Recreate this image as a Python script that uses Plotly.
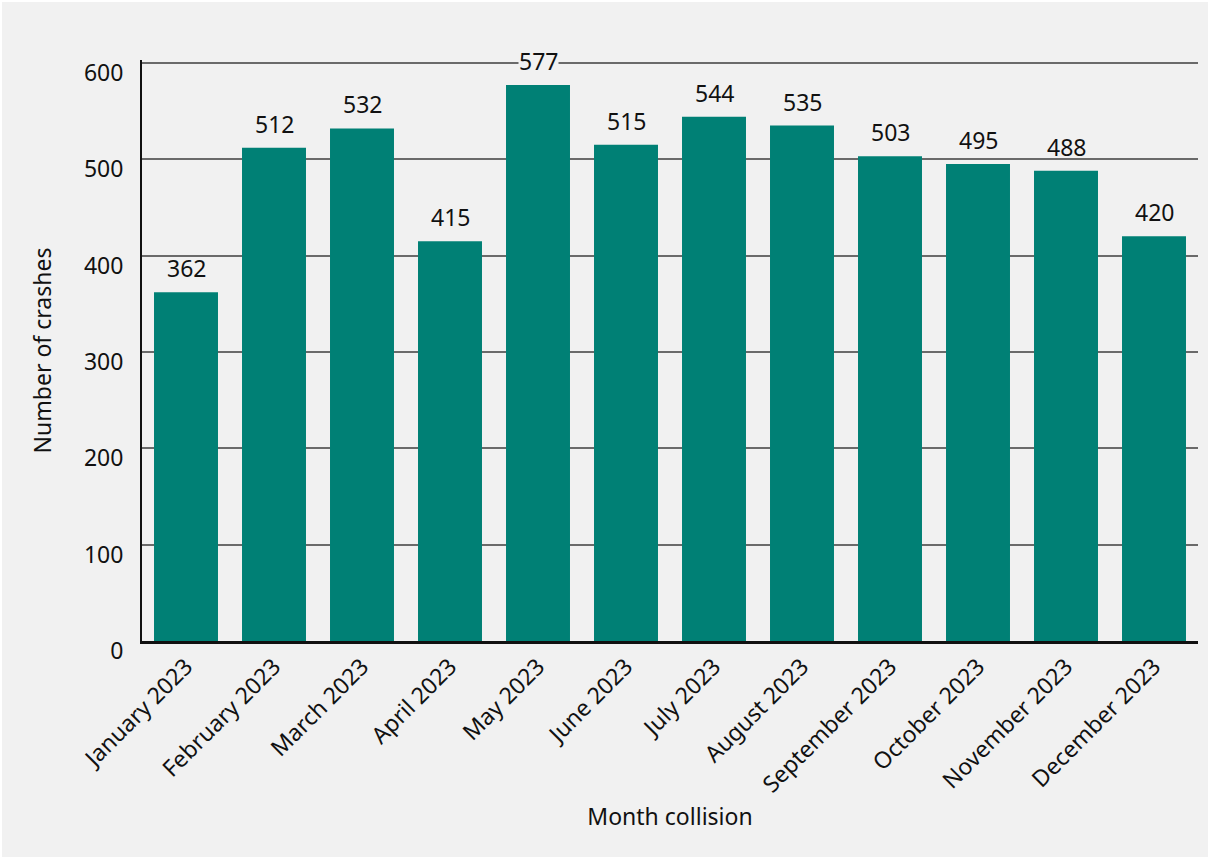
import plotly.graph_objects as go

months = ["January 2023", "February 2023", "March 2023", "April 2023", "May 2023",
          "June 2023", "July 2023", "August 2023", "September 2023", "October 2023",
          "November 2023", "December 2023"]
crashes = [362, 512, 532, 415, 577, 515, 544, 535, 503, 495, 488, 420]
y_ticks = [0, 100, 200, 300, 400, 500, 600]

BG = "#f1f1f1"
FONT = "Noto Sans"
FS = 23
TXT = "#111111"

W, H = 1210, 859
ML, MR, MT, MB = 142, 12, 60, 218

fig = go.Figure()
fig.add_trace(go.Bar(x=months, y=crashes, marker=dict(color="#008075", line=dict(width=0)),
                     hoverinfo="x+y"))

for m, v in zip(months, crashes):
    # mask the gridline only when it would run through the digits
    crosses = any(v + 14 < g < v + 33 for g in y_ticks)
    fig.add_annotation(x=m, y=v, text=str(v), showarrow=False, yanchor="bottom",
                       yshift=7, bgcolor=BG if crosses else "rgba(0,0,0,0)", borderpad=0,
                       font=dict(family=FONT, size=FS, color=TXT))

fig.update_layout(
    width=W, height=H,
    paper_bgcolor=BG, plot_bgcolor=BG,
    margin=dict(l=ML, r=MR, t=MT, b=MB),
    bargap=0.273,
    showlegend=False,
    font=dict(family=FONT, size=FS, color=TXT),
)
fig.update_xaxes(
    tickangle=-45, showgrid=False, showline=True, linecolor=TXT, linewidth=3,
    ticks="", tickfont=dict(family=FONT, size=FS, color=TXT),
    title=dict(text="Month collision", font=dict(family=FONT, size=FS, color=TXT), standoff=12),
)
fig.update_yaxes(
    range=[0, 603], tickvals=y_ticks, showgrid=True, gridcolor="#6a6a6a", gridwidth=1.5,
    showline=True, linecolor=TXT, linewidth=2, zeroline=False, ticks="",
    ticklabelshift=10, ticklabelstandoff=12,
    tickfont=dict(family=FONT, size=FS, color=TXT),
    title=dict(text="Number of crashes", font=dict(family=FONT, size=FS, color=TXT), standoff=26),
)
pw, ph = W - ML - MR, H - MT - MB
fig.add_shape(type="rect", xref="paper", yref="paper",
              x0=-ML / pw, x1=1 + MR / pw, y0=-MB / ph, y1=1 + MT / ph,
              line=dict(color="white", width=4), layer="above")

fig.write_html("out.html")
